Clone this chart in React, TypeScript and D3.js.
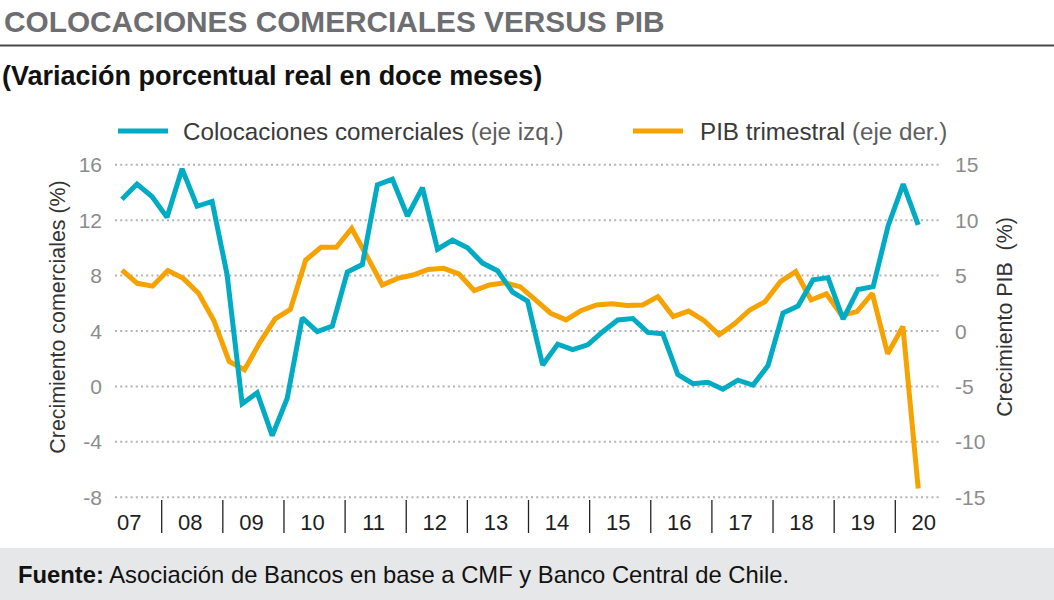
import React from "react";
import * as d3 from "d3";

const W = 1054;
const H = 600;

// Colocaciones comerciales (eje izq.), variación % real 12 meses
const colocaciones: number[] = [
  13.5, 14.6, 13.7, 12.2, 15.7, 13.0, 13.35, 8.05, -1.25, -0.45, -3.55, -0.85,
  4.95, 3.95, 4.35, 8.25, 8.8, 14.55, 14.95, 12.3, 14.35, 9.9, 10.55, 10.0,
  8.9, 8.35, 6.8, 6.15, 1.55, 3.05, 2.65, 3.0, 3.95, 4.8, 4.9, 3.9, 3.8, 0.85,
  0.2, 0.3, -0.2, 0.45, 0.1, 1.5, 5.3, 5.8, 7.7, 7.85, 4.85, 7.0, 7.2, 11.6,
  14.6, 11.65,
];

// PIB trimestral (eje der.), 2007T2 – 2020T2
const pib: number[] = [
  5.5, 4.3, 4.05, 5.45, 4.75, 3.4, 0.95, -2.75, -3.5, -1.05, 1.1, 1.95, 6.4,
  7.55, 7.55, 9.25, 6.75, 4.15, 4.75, 5.05, 5.55, 5.65, 5.15, 3.65, 4.15, 4.35,
  4.0, 2.8, 1.6, 1.0, 1.85, 2.35, 2.45, 2.3, 2.35, 3.1, 1.3, 1.8, 0.95, -0.35,
  0.65, 1.9, 2.65, 4.45, 5.35, 2.8, 3.35, 1.4, 1.75, 3.4, -2.05, 0.4, -14.2,
];

const yearLabels: string[] = ["07", "08", "09", "10", "11", "12", "13", "14", "15", "16", "17", "18", "19", "20"];
const leftTicks: number[] = [16, 12, 8, 4, 0, -4, -8];
const rightTicks: number[] = [15, 10, 5, 0, -5, -10, -15];

const FONT = "'Liberation Sans', Arial, Helvetica, sans-serif";
const TEAL = "#00abc3";
const ORANGE = "#f6a200";

export default function App() {
  const plotLeft = 115;
  const plotRight = 940;
  const plotTop = 164.7;
  const plotBottom = 497.3;

  const yL = d3.scaleLinear().domain([-8, 16]).range([plotBottom, plotTop]);
  const yR = d3.scaleLinear().domain([-15, 15]).range([plotBottom, plotTop]);
  // year scale: position of Jan 1st of each year
  const xYear = d3.scaleLinear().domain([2008, 2020]).range([161.7, 895.3]);
  const start = 2007.35;
  const end = 2020.375;
  const xT = d3.scaleLinear().domain([0, colocaciones.length - 1]).range([xYear(start), xYear(end)]);
  const xP = d3.scaleLinear().domain([0, pib.length - 1]).range([xYear(start), xYear(end)]);

  const lineT = d3.line<number>().x((_, i) => xT(i)).y((d) => yL(d));
  const lineP = d3.line<number>().x((_, i) => xP(i)).y((d) => yR(d));

  const separators = d3.range(2008, 2021);

  return (
    <svg
      width={W}
      height={H}
      style={{ position: "absolute", left: 0, top: 0, background: "#fff" }}
      fontFamily={FONT}
    >
      <rect x={0} y={0} width={W} height={H} fill="#fff" />
      {/* Title */}
      <text x={4} y={32} fontSize={29.8} fontWeight="bold" fill="#6d6e71">
        COLOCACIONES COMERCIALES VERSUS PIB
      </text>
      <line x1={0} x2={W} y1={45.5} y2={45.5} stroke="#4a4a4a" strokeWidth={2} />
      <text x={2} y={85} fontSize={27} fontWeight="bold" fill="#111">
        (Variación porcentual real en doce meses)
      </text>

      {/* Legend */}
      <line x1={118} x2={168} y1={131} y2={131} stroke={TEAL} strokeWidth={5} />
      <text x={183} y={139.5} fontSize={24.2} fill="#3a3a3a">
        Colocaciones comerciales <tspan fill="#5e5e5e">(eje izq.)</tspan>
      </text>
      <line x1={633} x2={683} y1={131} y2={131} stroke={ORANGE} strokeWidth={5} />
      <text x={700} y={139.5} fontSize={24.2} fill="#3a3a3a">
        PIB trimestral <tspan fill="#5e5e5e">(eje der.)</tspan>
      </text>

      {/* Grid */}
      {leftTicks.map((t) => (
        <line
          key={"g" + t}
          x1={plotLeft}
          x2={plotRight}
          y1={yL(t)}
          y2={yL(t)}
          stroke="#b3b3b3"
          strokeWidth={2}
          strokeDasharray="2 3.2"
        />
      ))}

      {/* Left ticks */}
      {leftTicks.map((t) => (
        <text key={"l" + t} x={102} y={yL(t)} dy="0.36em" textAnchor="end" fontSize={21} fill="#8c8c8c">
          {t}
        </text>
      ))}
      {/* Right ticks */}
      {rightTicks.map((t) => (
        <text key={"r" + t} x={955} y={yR(t)} dy="0.36em" textAnchor="start" fontSize={21} fill="#8c8c8c">
          {t}
        </text>
      ))}

      {/* Axis titles */}
      <text
        transform={`translate(65,${(plotTop + plotBottom) / 2 - 14}) rotate(-90)`}
        textAnchor="middle"
        fontSize={21.4}
        fill="#333"
      >
        Crecimiento comerciales (%)
      </text>
      <text
        transform={`translate(1012,${(plotTop + plotBottom) / 2 - 14}) rotate(-90)`}
        textAnchor="middle"
        fontSize={21.4}
        fill="#333"
        style={{ whiteSpace: "pre" }}
      >
        {"Crecimiento PIB  (%)"}
      </text>

      {/* X axis separators & labels */}
      {separators.map((y) => (
        <line key={"s" + y} x1={xYear(y)} x2={xYear(y)} y1={500} y2={533} stroke="#222" strokeWidth={1.3} />
      ))}
      {yearLabels.map((lab, i) => (
        <text key={"x" + lab} x={xYear(2007 + i + 0.5) - 2} y={530} textAnchor="middle" fontSize={22} fill="#1e1e1e">
          {lab}
        </text>
      ))}

      {/* Lines */}
      <path d={lineP(pib) || ""} fill="none" stroke={ORANGE} strokeWidth={5} strokeLinejoin="miter" strokeMiterlimit={2} />
      <path d={lineT(colocaciones) || ""} fill="none" stroke={TEAL} strokeWidth={5} strokeLinejoin="miter" strokeMiterlimit={2} />

      {/* Footer */}
      <rect x={0} y={548} width={W} height={H - 548} fill="#e6e7e8" />
      <text x={18} y={583} fontSize={23.8} fill="#111">
        <tspan fontWeight="bold">Fuente:</tspan> Asociación de Bancos en base a CMF y Banco Central de Chile.
      </text>
    </svg>
  );
}
